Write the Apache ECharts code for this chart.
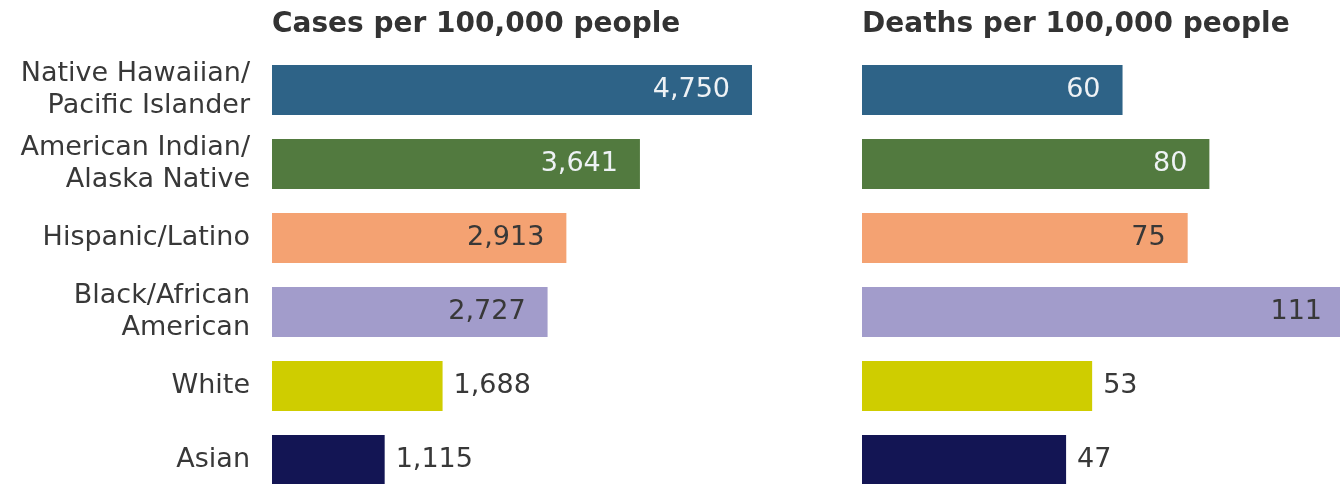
<!DOCTYPE html>
<html>
<head>
<meta charset="utf-8">
<script src="https://cdn.jsdelivr.net/npm/echarts@6/dist/echarts.min.js"></script>
<style>html,body{margin:0;padding:0;background:#fff;overflow:hidden;}#c{width:1360px;height:510px;}</style>
</head>
<body>
<div id="c"></div>
<script>
const categories = ["Native Hawaiian/\nPacific Islander", "American Indian/\nAlaska Native", "Hispanic/Latino", "Black/African\nAmerican", "White", "Asian"];
const cases = [4750, 3641, 2913, 2727, 1688, 1115];
const deaths = [60, 80, 75, 111, 53, 47];
const colors = ["#2e6387", "#527a3f", "#f4a272", "#a29ccb", "#cfcd00", "#131554"];
const labelColors = ["#eef2f5", "#eef2f5", "#383838", "#383838", "#383838", "#383838"];
const insideFlags = [true, true, true, true, false, false];
const titles = ["Cases per 100,000 people", "Deaths per 100,000 people"];

const FONT = "DejaVu Sans";
const TXT = "#383838";

function buildData(vals) {
  return vals.map((v, i) => ({
    value: v,
    itemStyle: { color: colors[i] },
    label: insideFlags[i]
      ? { position: "insideRight", distance: 22, color: labelColors[i] }
      : { position: "right", distance: 11, color: TXT }
  }));
}

const chart = echarts.init(document.getElementById("c"), null, { renderer: "canvas" });
chart.setOption({
  animation: false,
  backgroundColor: "#ffffff",
  title: [
    { text: titles[0], left: 272, top: 11, padding: 0, textStyle: { fontFamily: FONT, fontSize: 28, fontWeight: "bold", color: "#333333" } },
    { text: titles[1], left: 862, top: 11, padding: 0, textStyle: { fontFamily: FONT, fontSize: 28, fontWeight: "bold", color: "#333333" } }
  ],
  grid: [
    { left: 272, top: 53, width: 480, height: 444 },
    { left: 862, top: 53, width: 482, height: 444 }
  ],
  xAxis: [
    { type: "value", gridIndex: 0, min: 0, max: 4750, show: false },
    { type: "value", gridIndex: 1, min: 0, max: 111, show: false }
  ],
  yAxis: [
    { type: "category", gridIndex: 0, data: categories, inverse: true,
      axisLine: { show: false }, axisTick: { show: false },
      axisLabel: { margin: 22, fontFamily: FONT, fontSize: 27, lineHeight: 32, color: TXT, align: "right" } },
    { type: "category", gridIndex: 1, data: categories, inverse: true, show: false }
  ],
  series: [
    { type: "bar", xAxisIndex: 0, yAxisIndex: 0, barWidth: 50, data: buildData(cases),
      label: { show: true, fontFamily: FONT, fontSize: 27, formatter: p => p.value.toLocaleString("en-US") } },
    { type: "bar", xAxisIndex: 1, yAxisIndex: 1, barWidth: 50, data: buildData(deaths),
      label: { show: true, fontFamily: FONT, fontSize: 27, formatter: p => p.value.toLocaleString("en-US") } }
  ]
});
</script>
</body>
</html>
